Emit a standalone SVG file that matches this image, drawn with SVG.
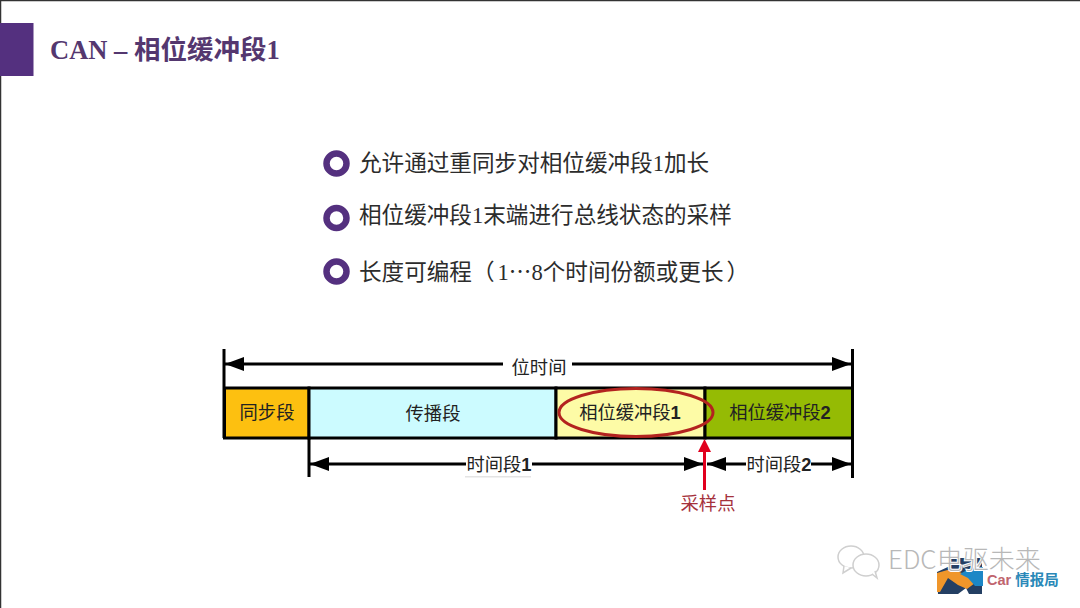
<svg xmlns="http://www.w3.org/2000/svg" width="1080" height="608" viewBox="0 0 1080 608">
<defs>
<marker id="ah" markerUnits="userSpaceOnUse" markerWidth="20" markerHeight="14" refX="19" refY="7" orient="auto-start-reverse"><path d="M0 0L19 7L0 14Z" fill="#000"/></marker>
</defs>
<style>
text{font-family:"Noto Sans CJK SC","Liberation Sans",sans-serif}
.b{font-size:22.6px;fill:#2c2c2c}
.s{font-family:"Liberation Serif","Noto Sans CJK SC",serif}
.l{font-size:18.300px;fill:#222;text-anchor:middle}
.n{font-weight:700;font-family:"Liberation Sans",sans-serif}
.dim{stroke:#000;stroke-width:3;fill:none}
.tick{stroke:#000;stroke-width:3}
.bullet{fill:#fff;stroke:#54307f;stroke-width:6.5}
.seg{stroke:#000;stroke-width:3}
</style>
<rect width="1080" height="608" fill="#fff"/>
<path d="M0.5 608V0.5H1080" fill="none" stroke="#333" stroke-width="1.5"/>
<g id="title">
<rect x="0" y="23" width="33.500" height="53" fill="#54307f"/>
<text x="50" y="59" font-size="26.500" font-weight="700" fill="#54376f"><tspan class="s">CAN – </tspan><tspan>相位缓冲段</tspan><tspan class="s">1</tspan></text>
</g>
<g id="bullets">
<circle class="bullet" cx="336.500" cy="163.500" r="10"/>
<text class="b" x="359" y="171">允许通过重同步对相位缓冲段<tspan class="s">1</tspan>加长</text>
<circle class="bullet" cx="336.500" cy="218" r="10"/>
<text class="b" x="359" y="223">相位缓冲段<tspan class="s">1</tspan>末端进行总线状态的采样</text>
<circle class="bullet" cx="336.500" cy="271.500" r="10"/>
<text class="b" x="359" y="280">长度可编程（<tspan class="s" dx="3">1</tspan><tspan>…</tspan><tspan class="s">8</tspan>个时间份额或更长<tspan dx="3">）</tspan></text>
</g>
<g id="node-sync"><rect class="seg" x="224.500" y="388" width="84.500" height="50" fill="#fdc010"/><text class="l" x="267" y="419">同步段</text></g>
<g id="node-prop"><rect class="seg" x="309" y="388" width="247" height="50" fill="#ccfbff"/><text class="l" x="433" y="420">传播段</text></g>
<g id="node-ps1"><rect class="seg" x="556" y="388" width="149" height="50" fill="#fdfba6"/><text class="l" x="630" y="419">相位缓冲段<tspan class="n">1</tspan></text></g>
<g id="node-ps2"><rect class="seg" x="705" y="388" width="147.500" height="50" fill="#95bb04"/><text class="l" x="780" y="419">相位缓冲段<tspan class="n">2</tspan></text></g>
<g id="connectors">
<ellipse cx="636" cy="412.500" rx="77" ry="24" fill="none" stroke="#b3231f" stroke-width="3"/>
<path class="tick" d="M224 349V438M852.500 349V478M309 438V477"/>
<path class="dim" marker-start="url(#ah)" d="M225 364H503"/>
<path class="dim" marker-end="url(#ah)" d="M572 364H851"/>
<path class="dim" marker-start="url(#ah)" d="M310 464H466"/>
<path class="dim" marker-end="url(#ah)" d="M532 464H703"/>
<path class="dim" marker-start="url(#ah)" d="M707 464H746"/>
<path class="dim" marker-end="url(#ah)" d="M811 464H851"/>
<path d="M704.500 490V450" stroke="#e1001e" stroke-width="3" fill="none"/>
<path d="M704.500 439L711 452H698Z" fill="#e1001e"/>
</g>
<g id="labels">
<text class="l" x="539" y="373.500">位时间</text>
<text class="l" x="499" y="470.500">时间段<tspan class="n">1</tspan></text>
<rect x="465" y="476" width="66" height="1.500" fill="#e4e4e4"/>
<text class="l" x="779" y="470.500">时间段<tspan class="n">2</tspan></text>
<text class="l" x="708" y="510" style="fill:#a5313c">采样点</text>
</g>
<g id="logo">
<path d="M937 572L950 566V558H982V594H969L966 588L958 594H938Z" fill="#243f63"/>
<path d="M937 573L951 569L962 573L972 578L975 583L967 589L958 585L948 578L940 592H937Z" fill="#f0962a"/>
<path d="M960 574L972 567H983V586H975L968 578Z" fill="#1c87c6"/>
<text x="987" y="585" font-size="14.500" font-weight="700"><tspan fill="#c0646e" font-family="Liberation Sans">Car </tspan><tspan fill="#2a88b8">情报局</tspan></text>
</g>
<g id="watermark">
<g fill="#fff" stroke="#cfcfcf" stroke-width="1.500">
<ellipse cx="851" cy="557" rx="13" ry="11"/><path d="M844 566L843 573L851 568"/>
<ellipse cx="866" cy="565" rx="13" ry="11"/><path d="M872 574L877 578L875 571"/>
</g>
<text x="888" y="569" font-size="26" fill="#b8b8b8" font-weight="300" stroke="#fff" stroke-width="2" paint-order="stroke">EDC电驱未来</text>
</g>
</svg>
